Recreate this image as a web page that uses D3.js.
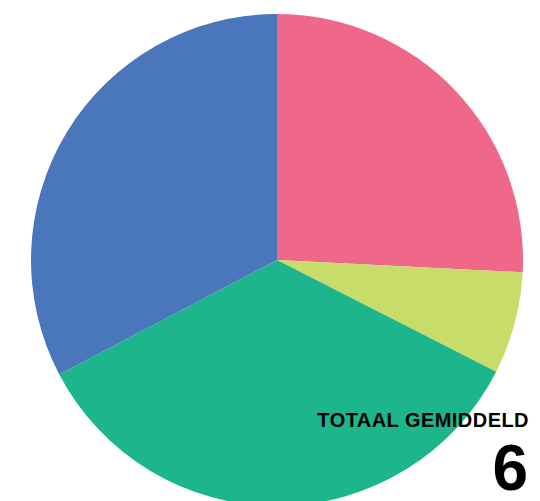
<!DOCTYPE html>
<html>
<head>
<meta charset="utf-8">
<script src="https://cdn.jsdelivr.net/npm/d3@7"></script>
<style>
  body { margin: 0; background: #fff; }
  svg { display: block; }
</style>
</head>
<body>
<div id="chart"></div>
<script>
// slice data, clockwise from 12 o'clock
var categories = ["roze", "geel", "groen", "blauw"];
var values = [25.8, 6.7, 34.8, 32.7];
var colors = ["#f06889", "#c8dc6a", "#1db68c", "#4a77bb"];
var totalLabel = "TOTAAL GEMIDDELD";
var totalValue = "6";

var width = 540, height = 501;
var cx = 277, cy = 260, radius = 246;

var svg = d3.select("#chart")
  .append("svg")
    .attr("width", width)
    .attr("height", height);

var data = categories.map(function(c, i) {
  return {name: c, value: values[i], color: colors[i]};
});

var pie = d3.pie()
  .sort(null)
  .value(function(d) { return d.value; });

var arc = d3.arc()
  .innerRadius(0)
  .outerRadius(radius);

var g = svg.append("g")
  .attr("transform", "translate(" + cx + "," + cy + ")");

g.selectAll("path")
  .data(pie(data))
  .enter()
  .append("path")
    .attr("d", arc)
    .attr("fill", function(d) { return d.data.color; });

// total label bottom right
svg.append("text")
  .attr("x", 529)
  .attr("y", 427)
  .attr("text-anchor", "end")
  .style("font-family", "'Liberation Sans', Arial, sans-serif")
  .style("font-weight", "bold")
  .style("font-size", "20px")
  .style("letter-spacing", "0.45px")
  .attr("fill", "#000")
  .text(totalLabel);

svg.append("text")
  .attr("x", 528)
  .attr("y", 490)
  .attr("text-anchor", "end")
  .style("font-family", "'Liberation Sans', Arial, sans-serif")
  .style("font-weight", "bold")
  .style("font-size", "64px")
  .attr("fill", "#000")
  .text(totalValue);
</script>
</body>
</html>
